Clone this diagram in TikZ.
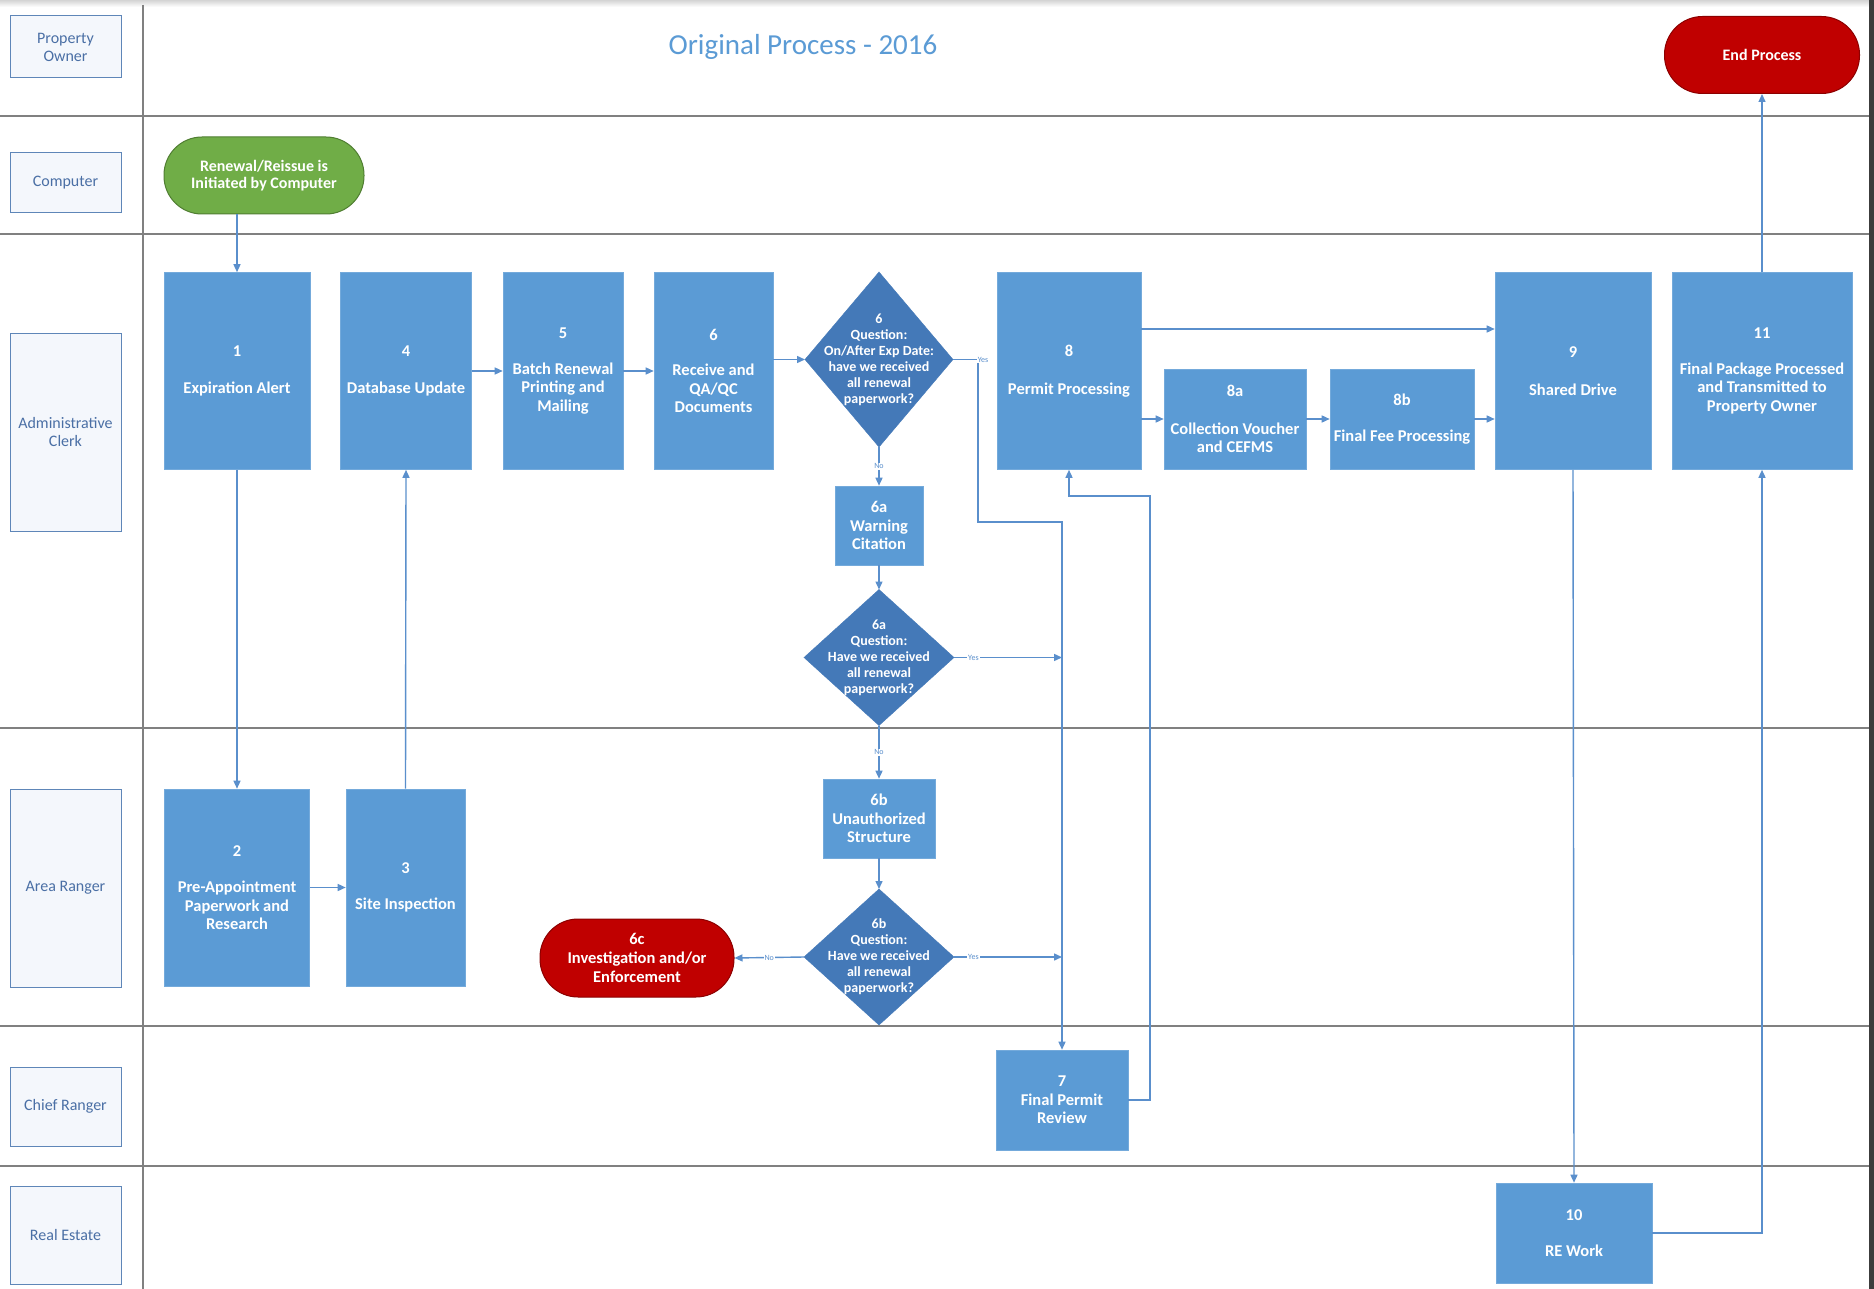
\documentclass[tikz,border=0pt]{standalone}
\usepackage{fontspec}
\setmainfont{Carlito}
\usetikzlibrary{shapes.geometric,arrows.meta,calc}

\definecolor{boxblue}{HTML}{5B9BD5}
\definecolor{diablue}{HTML}{4479B8}
\definecolor{lineblue}{HTML}{5A8FCC}
\definecolor{endred}{HTML}{C00000}
\definecolor{endedge}{HTML}{8C0000}
\definecolor{startgreen}{HTML}{70AD47}
\definecolor{startedge}{HTML}{507E32}
\definecolor{lanetext}{HTML}{4A6FA5}
\definecolor{laneedge}{HTML}{5E86B8}
\definecolor{lanefill}{HTML}{F4F7FC}
\definecolor{titleblue}{HTML}{5B9BD5}
\definecolor{lanegrey}{HTML}{808080}
\definecolor{frameband}{HTML}{D4D4D4}
\definecolor{frameedge}{HTML}{3C3C3C}

\tikzset{
  proc/.style={rectangle, fill=boxblue, draw=boxblue!85!white, line width=0.6pt,
    text=white, font=\fontsize{16.5}{18.5}\selectfont\bfseries, align=center, inner sep=1pt},
  decision/.style={diamond, fill=diablue, draw=diablue, inner sep=0pt, outer sep=0pt},
  dectext/.style={text=white, font=\fontsize{14}{16}\selectfont\bfseries, align=center, inner sep=0pt},
  terminal/.style={rectangle, rounded corners=38pt, line width=1pt, text=white,
    font=\fontsize{16}{17.5}\selectfont\bfseries, align=center},
  lanebox/.style={rectangle, draw=laneedge, fill=lanefill, line width=1pt, text=lanetext,
    font=\fontsize{16}{18}\selectfont, align=center, minimum width=111pt},
  lane/.style={draw=lanegrey, line width=1.4pt},
  conn/.style={draw=lineblue, line width=1.4pt, -{Triangle[length=8pt,width=7pt]}},
  yn/.style={font=\fontsize{8}{9}\selectfont, text=lineblue, fill=white, inner sep=1pt}
}

\begin{document}
\begin{tikzpicture}[x=1pt,y=-1pt]
\useasboundingbox (0,0) rectangle (1874,1289);
\fill[white] (0,0) rectangle (1874,1289);
% frame
\shade[top color=frameband, bottom color=white] (0,0) rectangle (1869,7);
\fill[frameedge] (1869,0) rectangle (1874,1289);

% lanes
\draw[lane] (0,116) -- (1869,116);
\draw[lane] (0,234) -- (1869,234);
\draw[lane] (0,728) -- (1869,728);
\draw[lane] (0,1026) -- (1869,1026);
\draw[lane] (0,1166) -- (1869,1166);
\draw[lane] (143,5) -- (143,1289);

% lane labels
\node[lanebox, minimum height=62pt] (lpo) at (65.5,47) {Property\\Owner};
\node[lanebox, minimum height=60pt] (lco) at (65.5,183) {Computer};
\node[lanebox, minimum height=198pt] (lac) at (65.5,432) {Administrative\\Clerk};
\node[lanebox, minimum height=198pt] (lar) at (65.5,888) {Area Ranger};
\node[lanebox, minimum height=79pt] (lcr) at (65.5,1106.5) {Chief Ranger};
\node[lanebox, minimum height=98pt] (lre) at (65.5,1235) {Real Estate};

% title
\node[text=titleblue, font=\fontsize{29}{33}\selectfont] (title) at (803,47) {Original Process - 2016};

% terminals
\node[terminal, fill=startgreen, draw=startedge, minimum width=200pt, minimum height=77pt] (start) at (264,175.5) {Renewal/Reissue is\\Initiated by Computer};
\node[terminal, fill=endred, draw=endedge, minimum width=195pt, minimum height=77pt] (end) at (1762,55) {End Process};
\node[terminal, fill=endred, draw=endedge, minimum width=194pt, minimum height=78pt, font=\fontsize{16.5}{19}\selectfont\bfseries] (b6c) at (637,958) {6c\\Investigation and/or\\Enforcement};

% process boxes
\node[proc, minimum width=146pt, minimum height=197pt] (b1) at (237,371) {1\\[19pt]Expiration Alert};
\node[proc, minimum width=131pt, minimum height=197pt] (b4) at (406,371) {4\\[19pt]Database Update};
\node[proc, minimum width=120pt, minimum height=197pt] (b5) at (563,371) {5\\[17pt]Batch Renewal\\Printing and\\Mailing};
\node[proc, minimum width=119pt, minimum height=197pt] (b6) at (713.5,371) {6\\[17pt]Receive and\\QA/QC\\Documents};
\node[proc, minimum width=144pt, minimum height=197pt] (b8) at (1069,371) {8\\[19pt]Permit Processing};
\node[proc, minimum width=142pt, minimum height=100pt] (b8a) at (1235,419) {8a\\[19pt]Collection Voucher\\and CEFMS};
\node[proc, minimum width=144pt, minimum height=100pt] (b8b) at (1402,419) {8b\\[17pt]Final Fee Processing};
\node[proc, minimum width=156pt, minimum height=197pt] (b9) at (1573,371) {9\\[19pt]Shared Drive};
\node[proc, minimum width=180pt, minimum height=197pt] (b11) at (1762,371) {11\\[17pt]Final Package Processed\\and Transmitted to\\Property Owner};
\node[proc, minimum width=88pt, minimum height=79pt] (b6a) at (879,525.5) {6a\\Warning\\Citation};
\node[proc, minimum width=112pt, minimum height=79pt] (b6b) at (879,818.5) {6b\\Unauthorized\\Structure};
\node[proc, minimum width=145pt, minimum height=197pt] (b2) at (237,887.5) {2\\[18pt]Pre-Appointment\\Paperwork and\\Research};
\node[proc, minimum width=119pt, minimum height=197pt] (b3) at (405.5,887.5) {3\\[17pt]Site Inspection};
\node[proc, minimum width=132pt, minimum height=100pt] (b7) at (1062,1100) {7\\Final Permit\\Review};
\node[proc, minimum width=156pt, minimum height=100pt] (b10) at (1574,1233) {10\\[18pt]RE Work};

% decisions
\node[decision, minimum width=148pt, minimum height=175pt] (d6) at (879,359.5) {};
\node[dectext] (d6t) at (d6.center) {6\\Question:\\On/After Exp Date:\\have we received\\all renewal\\paperwork?};
\node[decision, minimum width=150pt, minimum height=136pt] (d6a) at (879,657.5) {};
\node[dectext] (d6at) at (d6a.center) {6a\\Question:\\Have we received\\all renewal\\paperwork?};
\node[decision, minimum width=150pt, minimum height=136pt] (d6b) at (879,957) {};
\node[dectext] (d6bt) at (d6b.center) {6b\\Question:\\Have we received\\all renewal\\paperwork?};

% helper coordinates
\coordinate (yesc) at (978,359.5);
\coordinate (yesd) at (978,522);
\coordinate (r7) at (1150,496);
\coordinate (j6a) at (1062,657.5);
\coordinate (j6b) at (1062,957);

% connectors
\draw[conn] (b1.north |- start.south) -- (b1.north);
\draw[conn] (b1.south) -- (b2.north);
\draw[conn] (b2.east) -- (b3.west);
\draw[conn] (b3.north) -- (b4.south);
\draw[conn] (b4.east) -- (b5.west);
\draw[conn] (b5.east) -- (b6.west);
\draw[conn] (d6.west -| b6.east) -- (d6.west);
\draw[conn] (d6.south) -- node[yn]{No} (b6a.north);
\draw[conn] (d6.east) -- (yesc) -- (yesd) -| (b7.north);
\node[yn] (yes1) at (983,359.5) {Yes};
\draw[conn] (b6a.south) -- (d6a.north);
\draw[conn] (d6a.east) -- node[yn, pos=0.18]{Yes} (j6a);
\draw[conn] (d6a.south) -- node[yn]{No} (b6b.north);
\draw[conn] (b6b.south) -- (d6b.north);
\draw[conn] (d6b.west) -- node[yn]{No} (b6c.east);
\draw[conn] (d6b.east) -- node[yn, pos=0.18]{Yes} (j6b);
\draw[conn] (b7.east) -| (r7) -| (b8.south);
\draw[conn] ([yshift=42pt]b8.east) -- ([yshift=42pt]b9.west);
\draw[conn] (b8a.west -| b8.east) -- (b8a.west);
\draw[conn] (b8a.east) -- (b8b.west);
\draw[conn] (b8b.east) -- (b8b.east -| b9.west);
\draw[conn] (b9.south) -- (b10.north);
\draw[conn] (b10.east) -| (b11.south);
\draw[conn] (b11.north) -- (end.south);
\end{tikzpicture}
\end{document}
